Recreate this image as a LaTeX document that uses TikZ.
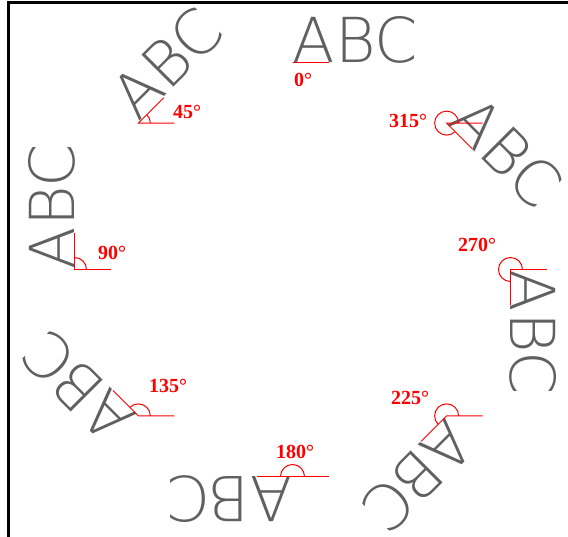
\documentclass[tikz,border=0pt]{standalone}
\usepackage{fontspec}
\newfontfamily\abcfont{DejaVu Sans ExtraLight}
\newfontfamily\degfont{Liberation Serif}
\definecolor{glyphgray}{RGB}{96,96,96}

\begin{document}
\begin{tikzpicture}[x=1pt, y=1pt,
		glyph/.style={font=\abcfont\fontsize{62}{62}\selectfont, text=glyphgray, inner sep=0pt, anchor=base west},
		refline/.style={red, line width=1pt},
		deg/.style={text=red, inner sep=0pt, font=\degfont\bfseries\fontsize{20}{20}\selectfont}]
		\useasboundingbox (0,0) rectangle (568,-537);
		\def\cx{292.5}\def\cy{-269.5}\def\rx{218}\def\ry{207}\def\ln{36}\def\ra{12}
		% frame
		\draw[line width=3pt] (8,-537) -- (8,-3) -- (568,-3);
		% rotated text, base line, rotated line and angle arc
		\foreach \t/\lx/\ly in {0/303/80, 45/187/112, 90/112/253, 135/168/386,
				180/295/452, 225/410/398, 270/477/245, 315/408/121}{
			\coordinate (p\t) at ({\cx+\rx*cos(\t+90)},{\cy+\ry*sin(\t+90)});
			\node[glyph, rotate=\t] (abc\t) at (p\t) {ABC};
			\draw[refline] (p\t) ++(\ln,0) -- (p\t) -- ++(\t:\ln);
			\draw[refline] (p\t) ++(\ra,0) arc[start angle=0, end angle=\t, radius=\ra];
			\node[deg] (lab\t) at (\lx,-\ly) {\t°};
		}
	\end{tikzpicture}
\end{document}
